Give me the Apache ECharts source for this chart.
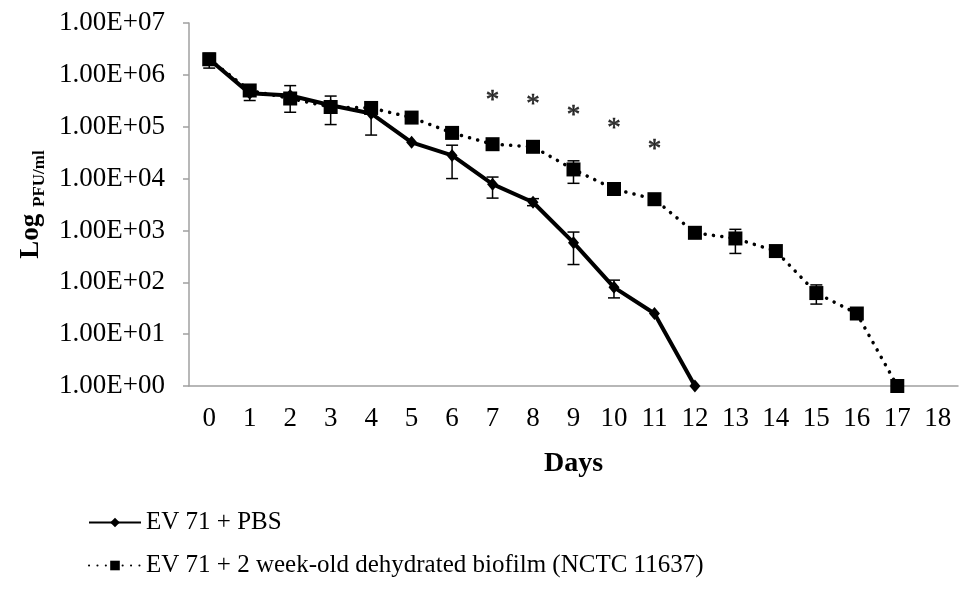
<html>
<head>
<meta charset="utf-8">
<script src="https://cdn.jsdelivr.net/npm/echarts@6/dist/echarts.min.js"></script>
<style>
html, body { margin: 0; padding: 0; background: #ffffff; }
#chart { width: 960px; height: 590px; }
</style>
</head>
<body>
<div id="chart"></div>
<script type="text/javascript">
///////////////////////////////////////////////////////////////////////////////
// data
var days = ['0','1','2','3','4','5','6','7','8','9','10','11','12','13','14','15','16','17','18'];
var name_pbs = 'EV 71 + PBS';
var name_bio = 'EV 71 + 2 week-old dehydrated biofilm (NCTC 11637)';

var pbs = [2.0e6, 4.4e5, 4.0e5, 2.6e5, 1.8e5, 5.0e4, 2.8e4, 7.8e3, 3.5e3, 5.8e2, 8.0e1, 2.5e1, 1];
var bio = [2.0e6, 5.0e5, 3.5e5, 2.4e5, 2.3e5, 1.5e5, 7.6e4, 4.6e4, 4.1e4, 1.5e4, 6.3e3, 4.0e3, 9.0e2, 7.0e2, 4.0e2, 6.2e1, 2.5e1, 1];

// error bars: [day, low, high]
var pbs_err = [
	[1, 3.2e5, 5.6e5], [2, 1.9e5, 6.2e5], [3, 1.1e5, 3.9e5], [4, 6.9e4, 2.0e5],
	[6, 1.0e4, 4.4e4], [7, 4.2e3, 1.07e4], [8, 3.0e3, 4.1e3], [9, 2.2e2, 9.3e2],
	[10, 5.0e1, 1.1e2]
];
var bio_err = [
	[0, 1.35e6, 2.6e6], [5, 1.2e5, 1.8e5], [9, 8.1e3, 2.2e4], [12, 7.8e2, 1.0e3],
	[13, 3.6e2, 1.05e3], [15, 3.8e1, 8.9e1]
];

// significance markers: [day, height]
var stars = [[7, 3.7e5], [8, 3.2e5], [9, 1.9e5], [10, 1.07e5], [11, 4.2e4]];

///////////////////////////////////////////////////////////////////////////////
var font = 'Liberation Serif';

function fmt_exp(v) {
	var e = Math.round(Math.log10(v));
	var m = v / Math.pow(10, e);
	return m.toFixed(2) + 'E+' + (e < 10 ? '0' : '') + e;
}

// vertical error bar with caps
function err_item(params, api) {
	var x = api.value(0);
	var lo = api.coord([x, api.value(1)]);
	var hi = api.coord([x, api.value(2)]);
	var w = 6;
	var st = { stroke: '#000', lineWidth: 1.5 };
	return {
		type: 'group',
		children: [
			{ type: 'line', shape: { x1: lo[0], y1: lo[1], x2: hi[0], y2: hi[1] }, style: st },
			{ type: 'line', shape: { x1: lo[0]-w, y1: lo[1], x2: lo[0]+w, y2: lo[1] }, style: st },
			{ type: 'line', shape: { x1: hi[0]-w, y1: hi[1], x2: hi[0]+w, y2: hi[1] }, style: st }
		]
	};
}

var chart = echarts.init(document.getElementById('chart'), null, { renderer: 'canvas' });

var option = {
	animation: false,
	backgroundColor: '#ffffff',
	textStyle: { fontFamily: font, color: '#000' },
	grid: { left: 189, right: 2, top: 23, bottom: 204 },
	legend: {
		orient: 'vertical',
		left: 88,
		top: 510,
		padding: 0,
		itemWidth: 52,
		itemHeight: 12,
		itemGap: 18,
		textStyle: { fontFamily: font, fontSize: 25, color: '#000' },
		data: [name_pbs, name_bio]
	},
	xAxis: {
		type: 'category',
		data: days,
		boundaryGap: true,
		name: 'Days',
		nameLocation: 'middle',
		nameGap: 64,
		nameTextStyle: { fontFamily: font, fontSize: 28, fontWeight: 'bold', color: '#000' },
		axisLine: { lineStyle: { color: '#a0a0a0', width: 1.5 } },
		axisTick: { length: 6, lineStyle: { color: '#a0a0a0', width: 1.5 } },
		axisLabel: { fontFamily: font, fontSize: 27, color: '#000', margin: 19, interval: 0 },
		splitLine: { show: false }
	},
	yAxis: {
		type: 'log',
		logBase: 10,
		min: 1,
		max: 1e7,
		name: '{a|Log }{b|PFU/ml}',
		nameLocation: 'middle',
		nameGap: 142,
		nameRotate: 90,
		nameTextStyle: {
			rich: {
				a: { fontFamily: font, fontSize: 27, fontWeight: 'bold', color: '#000', verticalAlign: 'bottom' },
				b: { fontFamily: font, fontSize: 17, fontWeight: 'bold', color: '#000', verticalAlign: 'bottom', padding: [0, 0, -4, 0] }
			}
		},
		axisLine: { show: true, lineStyle: { color: '#a0a0a0', width: 1.5 } },
		axisTick: { show: true, length: 6, lineStyle: { color: '#a0a0a0', width: 1.5 } },
		axisLabel: { fontFamily: font, fontSize: 27, color: '#000', margin: 24, formatter: fmt_exp },
		splitLine: { show: false }
	},
	series: [
		{
			name: name_pbs,
			type: 'line',
			data: pbs,
			symbol: 'diamond',
			symbolSize: [11, 13],
			itemStyle: { color: '#000' },
			lineStyle: { color: '#000', width: 4 },
			z: 3
		},
		{
			name: name_bio,
			type: 'line',
			data: bio,
			symbol: 'rect',
			symbolSize: 14,
			itemStyle: { color: '#000' },
			lineStyle: { color: '#000', width: 3.5, type: [0.1, 8.3], cap: 'round' },
			z: 4
		},
		{
			type: 'custom',
			data: pbs_err,
			renderItem: err_item,
			encode: { x: 0, y: [1, 2] },
			z: 5
		},
		{
			type: 'custom',
			data: bio_err,
			renderItem: err_item,
			encode: { x: 0, y: [1, 2] },
			z: 5
		},
		{
			type: 'scatter',
			data: stars,
			symbolSize: 1,
			itemStyle: { color: 'rgba(0,0,0,0)' },
			label: {
				show: true,
				position: 'inside',
				formatter: '*',
				fontFamily: font,
				fontSize: 27,
				color: '#000',
				textBorderColor: '#000',
				textBorderWidth: 0.6,
				offset: [0, 4]
			},
			z: 6
		}
	]
};

chart.setOption(option);
</script>
</body>
</html>
